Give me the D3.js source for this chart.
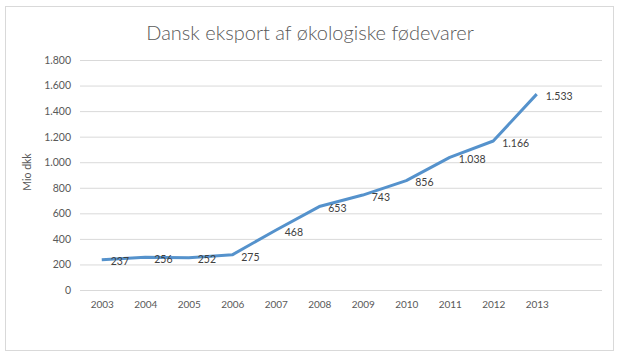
<!DOCTYPE html>
<html><head><meta charset="utf-8">
<script src="https://cdn.jsdelivr.net/npm/d3@7"></script>
<style>body{margin:0;background:#fff}svg{display:block}text{font-family:Lato,"Open Sans",sans-serif}</style>
</head><body>
<svg id="c" width="620" height="355"></svg>
<script>
const years = [2003,2004,2005,2006,2007,2008,2009,2010,2011,2012,2013];
const values = [237,256,252,275,468,653,743,856,1038,1166,1533];
const yTicks = [0,200,400,600,800,1000,1200,1400,1600,1800];
const title = "Dansk eksport af økologiske fødevarer";
const yLabel = "Mio dkk";

const svg = d3.select("#c");
const fmt = d => d3.format(",")(d).replace(/,/g,".");
svg.append("rect").attr("x",5.5).attr("y",6.5).attr("width",608).attr("height",344)
  .attr("fill","#fff").attr("stroke","#d9d9d9");

const x = d3.scaleLinear().domain([2002.5,2014.5]).range([80,602]);
const y = d3.scaleLinear().domain([0,1800]).range([290,60]);

svg.append("text").attr("x",310).attr("y",40).attr("text-anchor","middle")
  .attr("font-size",20).attr("font-weight",300).attr("fill","#595959").text(title);

const ya = svg.append("g").attr("transform","translate(80,0)")
  .call(d3.axisLeft(y).tickValues(yTicks).tickSize(-(602-80)).tickPadding(9).tickFormat(fmt));
ya.select(".domain").remove();
ya.selectAll(".tick line").attr("stroke","#d9d9d9");
ya.selectAll(".tick text").attr("fill","#595959").attr("font-size",10.5).attr("font-family","Lato,sans-serif");

const xa = svg.append("g").attr("transform","translate(0,290)")
  .call(d3.axisBottom(x).tickValues(years).tickSize(0).tickPadding(11).tickFormat(d3.format("d")));
xa.select(".domain").remove();
xa.selectAll(".tick text").attr("fill","#595959").attr("font-size",10).attr("font-family","Lato,sans-serif");

svg.append("text").attr("transform","translate(31,172) rotate(-90)").attr("text-anchor","middle")
  .attr("font-size",10.5).attr("fill","#595959").text(yLabel);

const pts = years.map((yr,i)=>({yr,v:values[i]}));
svg.append("path").datum(pts).attr("fill","none").attr("stroke","#5592cc").attr("stroke-width",3)
  .attr("stroke-linejoin","round")
  .attr("d", d3.line().x(d=>x(d.yr)).y(d=>y(d.v)));

svg.selectAll(".lbl").data(pts).enter().append("text").attr("class","lbl")
  .attr("x",d=>x(d.yr)+9).attr("y",d=>y(d.v)+2).attr("dy","0.35em")
  .attr("font-size",10.5).attr("fill","#404040").text(d=>fmt(d.v));
</script>
</body></html>
